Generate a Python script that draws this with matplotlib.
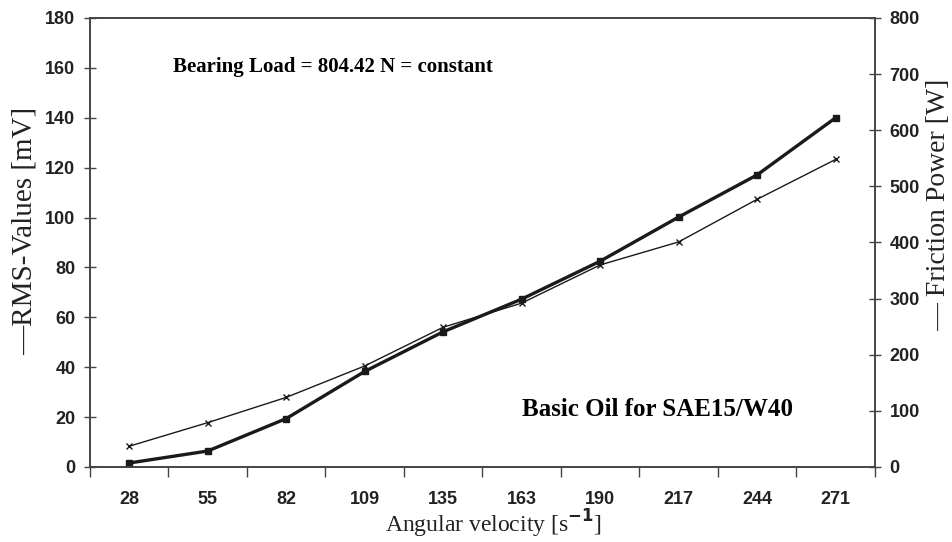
import numpy as np
import matplotlib.pyplot as plt

velocity = ['28', '55', '82', '109', '135', '163', '190', '217', '244', '271']
rms_mv = [1.6, 6.4, 19.4, 38.3, 54.2, 67.3, 82.5, 100.2, 117.1, 140.0]
friction_w = [37, 79, 124, 180, 249, 292, 360, 401, 477, 548]

serif = 'Liberation Serif'
sans = 'Liberation Sans'
ink = '#1a1a1a'

fig = plt.figure(figsize=(9.52, 5.42), dpi=100)
ax = fig.add_axes([0.0945, 0.1384, 0.8245, 0.8284])
ax2 = ax.twinx()

x = np.arange(len(velocity))
ax.plot(x, rms_mv, color=ink, lw=2.4, marker='s', ms=5, zorder=3)
ax2.plot(x, friction_w, color=ink, lw=1.0, marker='x', ms=4, mew=1.0)

ax.set_xlim(-0.5, len(velocity) - 0.5)
ax.set_ylim(0, 180)
ax.set_yticks(np.arange(0, 181, 20))
ax2.set_ylim(0, 800)
ax2.set_yticks(np.arange(0, 801, 100))

ax.set_xticks(x)
ax.set_xticklabels(velocity)
ax.set_xticks(np.arange(-0.5, len(velocity)), minor=True)
ax.tick_params(axis='x', which='major', length=0, pad=17)
ax.tick_params(axis='x', which='minor', direction='out', length=7, width=1, color='#444')
ax.tick_params(axis='y', direction='inout', length=9, width=1, color='#444', pad=6)
ax2.tick_params(axis='y', direction='inout', length=9, width=1, color='#444', pad=6)

for a in (ax, ax2):
    for s in a.spines.values():
        s.set_color('#444')
        s.set_linewidth(1.2)
    for lab in a.get_xticklabels() + a.get_yticklabels():
        lab.set_fontfamily(sans)
        lab.set_fontweight('bold')
        lab.set_fontsize(13)
        lab.set_color('#222')

ax.text(0.106, 0.891, 'Bearing Load = 804.42 N = constant', transform=ax.transAxes,
        fontfamily=serif, fontweight='bold', fontsize=15, va='center', ha='left')
ax.text(0.55, 0.127, 'Basic Oil for SAE15/W40', transform=ax.transAxes,
        fontfamily=serif, fontweight='bold', fontsize=18, va='center', ha='left')

fig.text(0.026, 0.574, '\u2014RMS-Values [mV]', rotation=90, fontfamily=serif,
         fontsize=21, ha='center', va='center', color='#222')
fig.text(0.986, 0.622, '\u2014 Friction Power [W]', rotation=90, fontfamily=serif,
         fontsize=20, ha='center', va='center', color='#222')
fig.text(0.518, 0.033, 'Angular velocity [s$^{\\mathbf{-1}}$]', fontfamily=serif,
         fontsize=17, ha='center', va='center', color='#222')

fig.savefig('out.png', dpi=100)
